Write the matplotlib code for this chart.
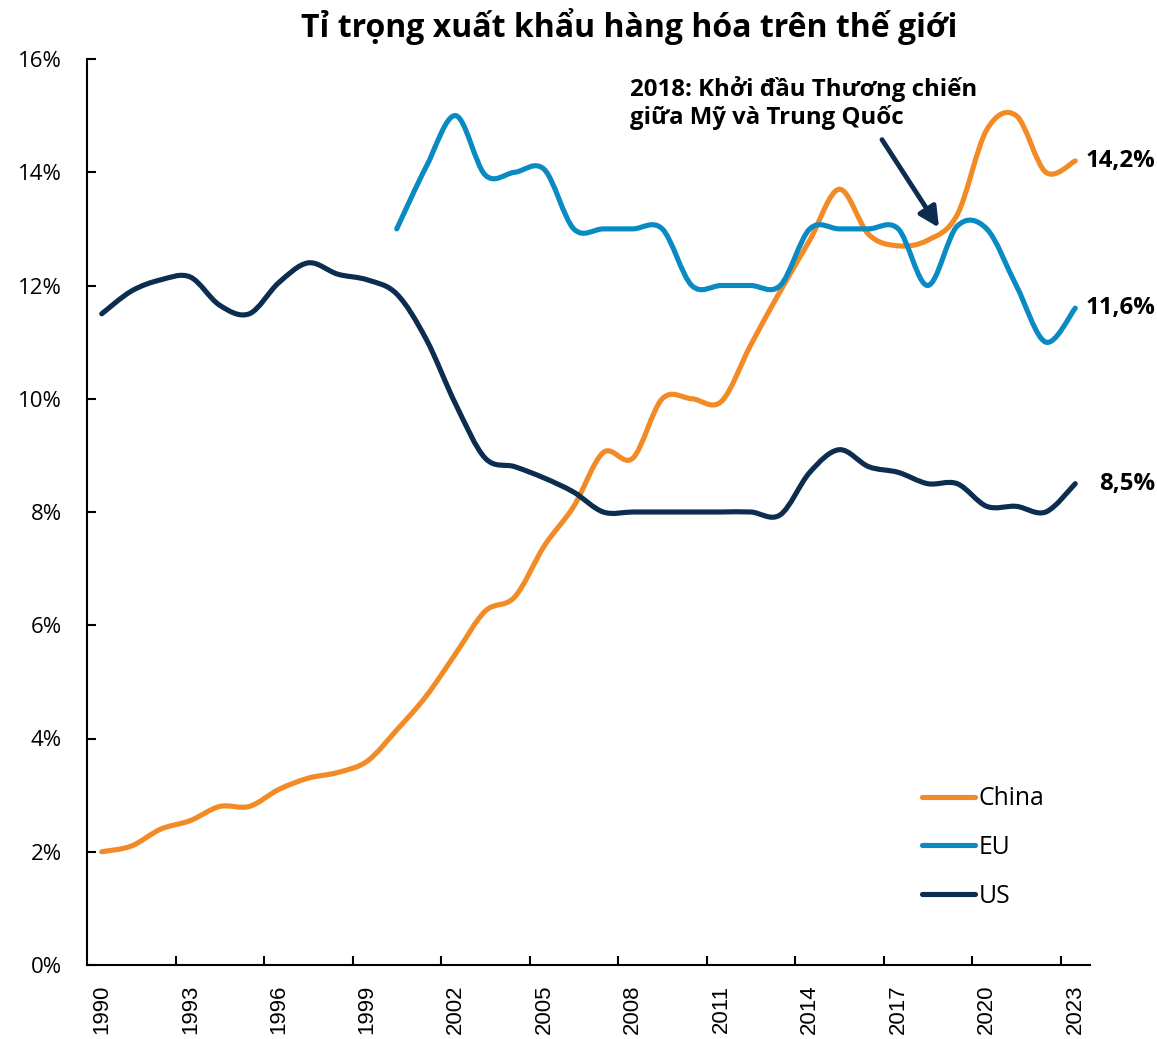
"""
Ti trong xuat khau hang hoa tren the gioi - China / EU / US, 1990-2023
"""

import numpy as np
import matplotlib
matplotlib.use("Agg")
import matplotlib.pyplot as plt
from matplotlib.path import Path
from matplotlib.patches import PathPatch
from matplotlib.lines import Line2D

# ── Data ────────────────────────────────────────────────
years = list(range(1990, 2024))

china = [2.0, 2.1, 2.4, 2.55, 2.8, 2.8, 3.1, 3.3, 3.4, 3.6,
         4.15, 4.75, 5.5, 6.25, 6.5, 7.4, 8.1, 9.05, 8.95, 10.0,
         10.0, 9.95, 10.95, 11.9, 12.8, 13.7, 12.9, 12.7, 12.8, 13.25,
         14.75, 15.0, 14.0, 14.2]

eu_years = list(range(2000, 2024))
eu = [13.0, 14.1, 15.0, 13.95, 14.0, 14.05, 13.0, 13.0, 13.0, 13.0,
      12.0, 12.0, 12.0, 12.0, 13.0, 13.0, 13.0, 13.0, 12.0, 13.05,
      13.0, 12.0, 11.0, 11.6]

us = [11.5, 11.9, 12.1, 12.15, 11.65, 11.5, 12.05, 12.4, 12.2, 12.1,
      11.85, 11.05, 9.9, 8.95, 8.8, 8.6, 8.35, 8.0, 8.0, 8.0,
      8.0, 8.0, 8.0, 7.95, 8.7, 9.1, 8.8, 8.7, 8.5, 8.5,
      8.1, 8.1, 8.0, 8.5]

series_names = ["China", "EU", "US"]
colors = {"China": "#F28A26", "EU": "#0A8AC2", "US": "#0C2D50"}

tick_years = years[::3]
y_ticks = list(range(0, 17, 2))


def smooth_path(xs, ys):
    """Excel-like smoothed line as a cubic Bezier path."""
    pts = np.column_stack([xs, ys]).astype(float)
    n = len(pts)
    verts = [pts[0]]
    codes = [Path.MOVETO]
    for i in range(n - 1):
        p_prev = pts[i - 1] if i > 0 else pts[i]
        p_next2 = pts[i + 2] if i + 2 < n else pts[i + 1]
        c1 = pts[i] + (pts[i + 1] - p_prev) / 6.0
        c2 = pts[i + 1] - (p_next2 - pts[i]) / 6.0
        verts += [c1, c2, pts[i + 1]]
        codes += [Path.CURVE4] * 3
    return Path(verts, codes)


# ── Figure ──────────────────────────────────────────────
W, H = 1157, 1039
fig = plt.figure(figsize=(W / 100, H / 100), dpi=100)
ax = fig.add_axes([87 / W, 1 - 965 / H, (1090 - 87) / W, (965 - 59) / H])

x_all = np.arange(len(years))
x_eu = np.array([years.index(y) for y in eu_years])
lw = 3.7

for name, xs, ys in [("China", x_all, china), ("EU", x_eu, eu), ("US", x_all, us)]:
    patch = PathPatch(smooth_path(xs, ys), fill=False, edgecolor=colors[name],
                      lw=lw, capstyle="round", joinstyle="round", zorder=3)
    ax.add_patch(patch)
    last = ys[-1]
    ax.annotate(f"{last:.1f}%".replace(".", ","), xy=(xs[-1], last),
                xytext=(57.6, 0), textcoords="offset points",
                ha="right", va="center", fontsize=17.3, fontweight="bold",
                family="Open Sans", annotation_clip=False)

ax.set_xlim(-0.5, len(years) - 0.5)
ax.set_ylim(0, 16)

# axes style
for s in ["top", "right"]:
    ax.spines[s].set_visible(False)
for s in ["left", "bottom"]:
    ax.spines[s].set_linewidth(1.5)

ax.set_yticks(y_ticks)
ax.set_yticklabels([f"{v}%" for v in y_ticks], family="Open Sans", fontsize=16)
ax.tick_params(axis="y", direction="in", length=6.5, width=1.5, pad=18)

ax.set_xticks([years.index(y) for y in tick_years])
ax.set_xticklabels([str(y) for y in tick_years], rotation=90,
                   family="Liberation Sans", fontsize=16)
ax.set_xticks(np.arange(2.5, len(years) - 1, 3), minor=True)
ax.tick_params(axis="x", which="major", length=0, pad=14)
ax.tick_params(axis="x", which="minor", direction="in", length=6.5, width=1.5)

# legend
handles = [Line2D([0], [0], color=colors[n], lw=lw, solid_capstyle="round")
           for n in series_names]
leg = ax.legend(handles, series_names, loc="lower right",
                bbox_to_anchor=(1067 / W, 1 - 931 / H), bbox_transform=fig.transFigure,
                frameon=False, handlelength=2.15, handletextpad=0.15,
                labelspacing=0.96, prop={"family": "Open Sans", "size": 17.8})

# title
fig.text(629 / W, 1 - 27 / H, "Tỉ trọng xuất khẩu hàng hóa trên thế giới",
         ha="center", va="center", fontsize=23, fontweight="bold", family="Open Sans")

# annotation
fig.text(630 / W, 1 - 76 / H, "2018: Khởi đầu Thương chiến\ngiữa Mỹ và Trung Quốc",
         ha="left", va="top", fontsize=17.3, fontweight="bold", family="Open Sans",
         linespacing=1.15)
ax.annotate("", xy=((939 - 87) / 29.5 - 0.5, (965 - 228) / 56.6),
            xytext=((882 - 87) / 29.5 - 0.5, (965 - 140) / 56.6),
            arrowprops=dict(arrowstyle="-|>", color=colors["US"], lw=3.5,
                            mutation_scale=30, shrinkA=0, shrinkB=0))

plt.savefig("out.png", dpi=100)
plt.close()
